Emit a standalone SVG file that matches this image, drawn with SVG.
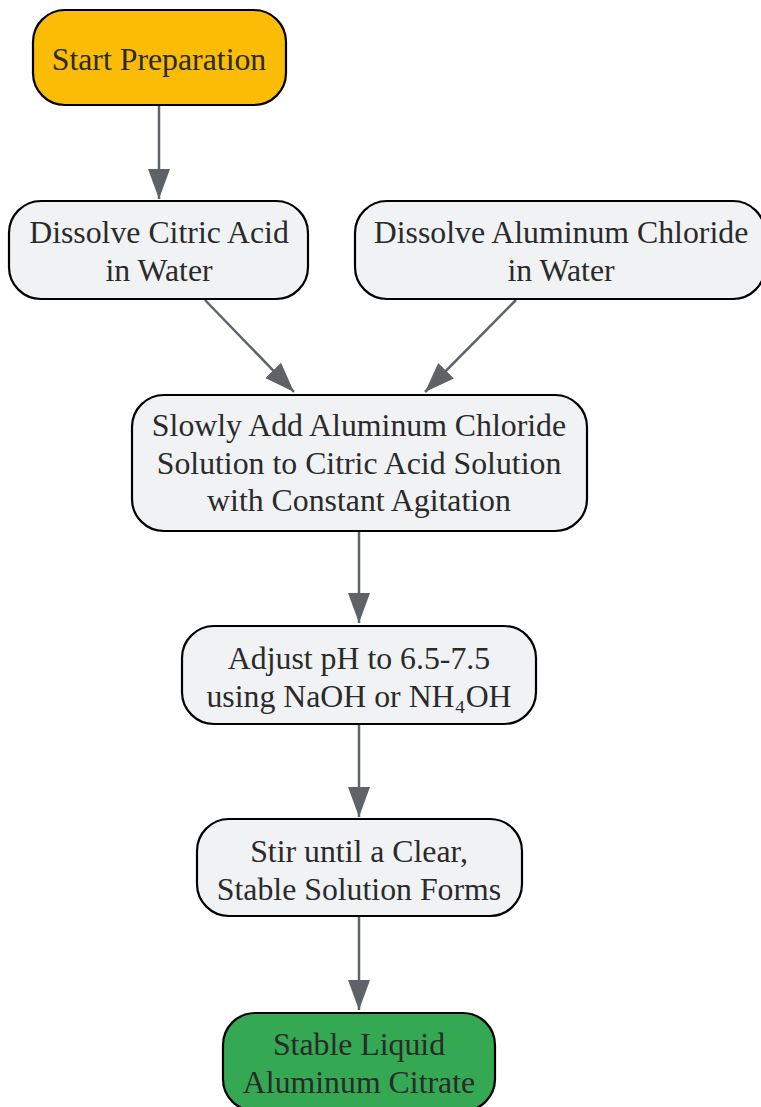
<svg xmlns="http://www.w3.org/2000/svg" width="761" height="1107" viewBox="0 0 761 1107">
<defs>
<marker id="arr" markerUnits="userSpaceOnUse" markerWidth="32" markerHeight="24" refX="30" refY="11" orient="auto">
<path d="M0,0 L30,11 L0,22 z" fill="#5f6368"/>
</marker>
<style>
.n rect{stroke:#000;stroke-width:2.2}
.g rect{fill:#f1f2f4}
text{font-family:"Liberation Serif","Times New Roman",serif;font-size:31.8px;fill:#2a2a2a;text-anchor:middle}
#edges line{stroke:#5f6368;stroke-width:2.5;fill:none;marker-end:url(#arr)}
</style>
</defs>
<rect width="761" height="1107" fill="#fff"/>
<g id="edges">
<line x1="159" y1="106" x2="159" y2="199"/>
<line x1="205" y1="300" x2="294" y2="392"/>
<line x1="516" y1="300" x2="425" y2="392"/>
<line x1="359" y1="531" x2="359" y2="623"/>
<line x1="359" y1="724" x2="359" y2="817"/>
<line x1="359" y1="916" x2="359" y2="1010"/>
</g>
<g id="start" class="n"><rect x="33" y="10" width="253" height="95" rx="32" fill="#fabc05"/><text x="159" y="70">Start Preparation</text></g>
<g id="citric" class="n g"><rect x="9" y="201" width="299" height="98" rx="32"/><text x="159" y="243">Dissolve Citric Acid<tspan x="159" dy="38">in Water</tspan></text></g>
<g id="alcl" class="n g"><rect x="355" y="201" width="410" height="98" rx="32"/><text x="561" y="243">Dissolve Aluminum Chloride<tspan x="561" dy="38">in Water</tspan></text></g>
<g id="mix" class="n g"><rect x="132" y="395" width="455" height="136" rx="32"/><text x="359" y="436">Slowly Add Aluminum Chloride<tspan x="359" dy="38">Solution to Citric Acid Solution</tspan><tspan x="359" dy="37">with Constant Agitation</tspan></text></g>
<g id="ph" class="n g"><rect x="182" y="626" width="354" height="98" rx="32"/><text x="359" y="669">Adjust pH to 6.5-7.5<tspan x="359" dy="38">using NaOH or NH₄OH</tspan></text></g>
<g id="stir" class="n g"><rect x="197" y="819" width="325" height="97" rx="32"/><text x="359" y="862">Stir until a Clear,<tspan x="359" dy="38">Stable Solution Forms</tspan></text></g>
<g id="end" class="n"><rect x="223" y="1013" width="272" height="98" rx="32" fill="#34a853"/><text x="359" y="1055">Stable Liquid<tspan x="359" dy="38">Aluminum Citrate</tspan></text></g>
</svg>
